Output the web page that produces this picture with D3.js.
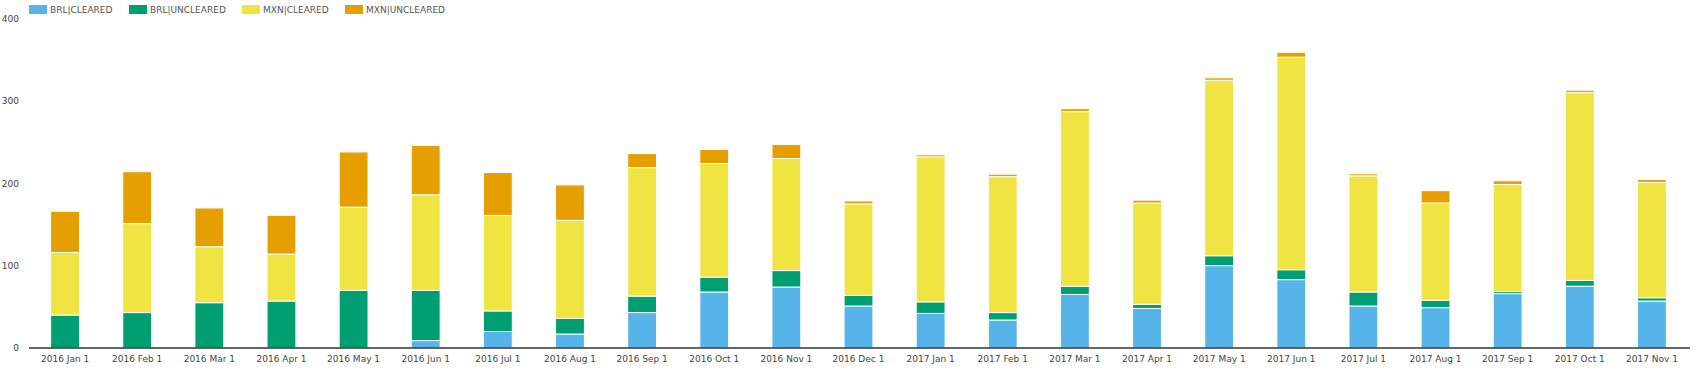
<!DOCTYPE html>
<html>
<head>
<meta charset="utf-8">
<script src="https://cdn.jsdelivr.net/npm/d3@7"></script>
<style>
  body { margin: 0; background: #fff; }
  svg { display: block; font-family: "DejaVu Sans", Verdana, sans-serif; }
</style>
</head>
<body>
<svg width="1693" height="371"></svg>
<script>
'use strict'

const months = [
  '2016 Jan 1', '2016 Feb 1', '2016 Mar 1', '2016 Apr 1', '2016 May 1', '2016 Jun 1',
  '2016 Jul 1', '2016 Aug 1', '2016 Sep 1', '2016 Oct 1', '2016 Nov 1', '2016 Dec 1',
  '2017 Jan 1', '2017 Feb 1', '2017 Mar 1', '2017 Apr 1', '2017 May 1', '2017 Jun 1',
  '2017 Jul 1', '2017 Aug 1', '2017 Sep 1', '2017 Oct 1', '2017 Nov 1'
];
const seriesNames = ['BRL|CLEARED', 'BRL|UNCLEARED', 'MXN|CLEARED', 'MXN|UNCLEARED'];
const colors = ['#56B4E9', '#009E73', '#F0E442', '#E69F00'];

const brlCleared   = [0, 0, 0, 0, 0, 9, 20, 17, 43, 68, 74, 51, 42, 34, 65, 48, 100, 83, 51, 49, 66, 75, 57];
const brlUncleared = [40, 43, 55, 57, 70, 61, 25, 19, 20, 18, 20, 13, 14, 9, 10, 5, 12, 12, 17, 9, 2.5, 7, 4];
const mxnCleared   = [76, 108, 68, 57, 101, 116, 116, 119, 156, 138, 136, 111, 176, 165, 212, 123, 213, 258, 141, 118, 130, 228, 140];
const mxnUncleared = [50, 63, 47, 47, 67, 60, 52, 43, 17, 17, 17, 3.5, 2.5, 3, 3.5, 3.5, 3, 6, 2.5, 15, 4.5, 3, 3.5];

const yTicks = [0, 100, 200, 300, 400];

const svg = d3.select('svg');

// rows for d3.stack
const rows = months.map((m, i) => ({
  month: m,
  'BRL|CLEARED': brlCleared[i],
  'BRL|UNCLEARED': brlUncleared[i],
  'MXN|CLEARED': mxnCleared[i],
  'MXN|UNCLEARED': mxnUncleared[i]
}));

const stacked = d3.stack().keys(seriesNames)(rows);

const x = d3.scaleBand()
  .domain(months)
  .range([29, 1688])
  .paddingInner(0.6)
  .paddingOuter(0.3);

const y = d3.scaleLinear()
  .domain([0, 400])
  .range([348, 18.5]);

const color = d3.scaleOrdinal().domain(seriesNames).range(colors);

// bars
svg.append('g')
  .selectAll('g')
  .data(stacked)
  .join('g')
  .attr('fill', d => color(d.key))
  .selectAll('rect')
  .data(d => d)
  .join('rect')
  .attr('x', d => x(d.data.month))
  .attr('width', x.bandwidth())
  .attr('y', d => y(d[1]))
  .attr('height', d => Math.max(0, y(d[0]) - y(d[1])))
  .attr('stroke', '#fff')
  .attr('stroke-width', 1);

// x axis
const xAxis = svg.append('g')
  .attr('transform', 'translate(0,348)')
  .call(d3.axisBottom(x).tickSize(0).tickPadding(8));
xAxis.select('.domain').remove();
xAxis.append('line')
  .attr('x1', 29).attr('x2', 1690)
  .attr('stroke', '#333').attr('stroke-width', 1.5);
xAxis.selectAll('text')
  .attr('fill', '#444')
  .style('font-size', '9px')
  .style('font-family', '"DejaVu Sans", Verdana, sans-serif');

// y axis
const yAxis = svg.append('g')
  .attr('transform', 'translate(22,0)')
  .call(d3.axisLeft(y).tickValues(yTicks).tickSize(0).tickPadding(3));
yAxis.select('.domain').remove();
yAxis.selectAll('text')
  .attr('fill', '#444')
  .style('font-size', '9px')
  .style('font-family', '"DejaVu Sans", Verdana, sans-serif');

// legend
const legendX = [29, 129, 242, 345];
const legend = svg.append('g')
  .selectAll('g')
  .data(seriesNames)
  .join('g')
  .attr('transform', (d, i) => `translate(${legendX[i]},5)`);
legend.append('rect')
  .attr('width', 18)
  .attr('height', 9)
  .attr('fill', d => color(d));
legend.append('text')
  .attr('x', 21)
  .attr('y', 4.5)
  .attr('dy', '0.35em')
  .attr('fill', '#555')
  .style('font-size', '9px')
  .text(d => d);
</script>
</body>
</html>
